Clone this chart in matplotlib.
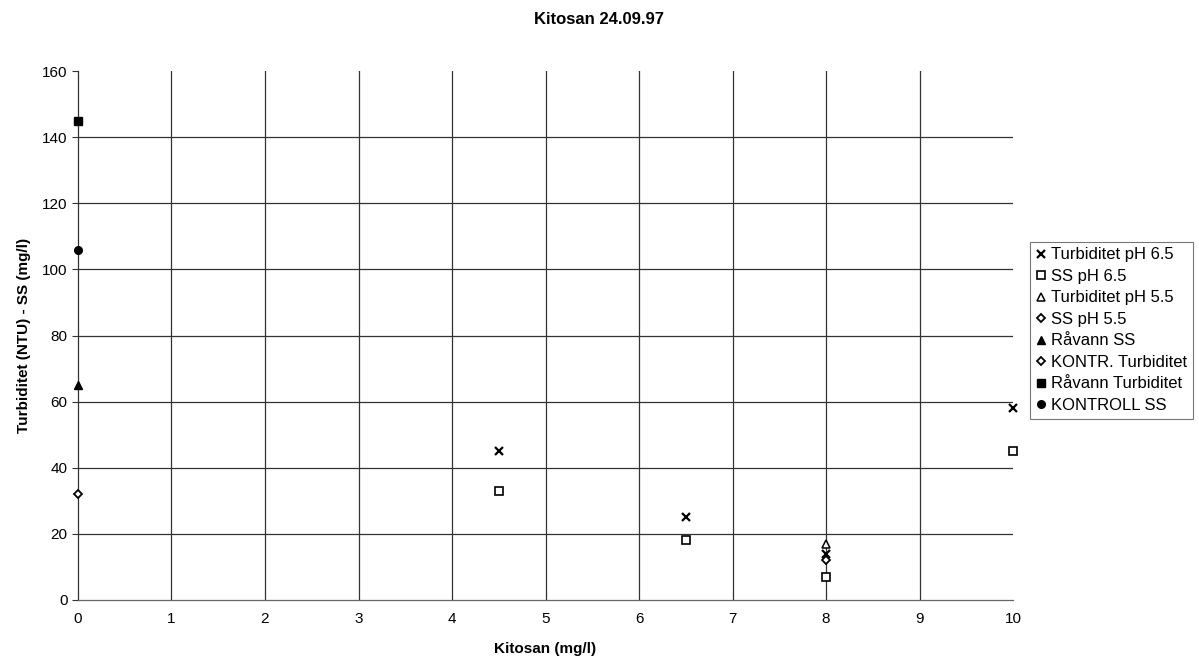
import matplotlib.pyplot as plt

plt.rcParams['font.family'] = ['Liberation Sans', 'DejaVu Sans']

# Kitosan dose (mg/l) and measured values per series
turb_65_x = [4.5, 6.5, 8, 10]
turb_65_y = [45, 25, 14, 58]
ss_65_x = [4.5, 6.5, 8, 10]
ss_65_y = [33, 18, 7, 45]
turb_55_x = [8]
turb_55_y = [17]
ss_55_x = [8]
ss_55_y = [12]
ravann_ss_x = [0]
ravann_ss_y = [65]
kontr_turb_x = [0]
kontr_turb_y = [32]
ravann_turb_x = [0]
ravann_turb_y = [145]
kontroll_ss_x = [0]
kontroll_ss_y = [106]

fig = plt.figure(figsize=(11.99, 6.62), dpi=100)
ax = fig.add_axes([0.065, 0.0937, 0.78, 0.799])

series = [
    (turb_65_x, turb_65_y, 'Turbiditet pH 6.5', dict(marker='x', color='black', markersize=6, markeredgewidth=1.6)),
    (ss_65_x, ss_65_y, 'SS pH 6.5', dict(marker='s', markerfacecolor='white', markeredgecolor='black', markersize=5.5, markeredgewidth=1.2)),
    (turb_55_x, turb_55_y, 'Turbiditet pH 5.5', dict(marker='^', markerfacecolor='white', markeredgecolor='black', markersize=6, markeredgewidth=1.1)),
    (ss_55_x, ss_55_y, 'SS pH 5.5', dict(marker='D', markerfacecolor='white', markeredgecolor='black', markersize=4.5, markeredgewidth=1.3)),
    (ravann_ss_x, ravann_ss_y, 'Råvann SS', dict(marker='^', color='black', markersize=6)),
    (kontr_turb_x, kontr_turb_y, 'KONTR. Turbiditet', dict(marker='D', markerfacecolor='white', markeredgecolor='black', markersize=4.5, markeredgewidth=1.3)),
    (ravann_turb_x, ravann_turb_y, 'Råvann Turbiditet', dict(marker='s', color='black', markersize=5.5)),
    (kontroll_ss_x, kontroll_ss_y, 'KONTROLL SS', dict(marker='o', color='black', markersize=5.5)),
]
for xs, ys, name, style in series:
    ax.plot(xs, ys, linestyle='none', label=name, clip_on=False, zorder=5, **style)

ax.set_xlim(0, 10)
ax.set_ylim(0, 160)
ax.set_xticks(range(0, 11))
ax.set_yticks(range(0, 161, 20))

# gridlines drawn by hand so the top and right edges stay open
for gx in range(1, 10):
    ax.axvline(gx, color='#333333', lw=0.9, zorder=1)
for gy in range(20, 160, 20):
    ax.axhline(gy, color='#333333', lw=0.9, zorder=1)

for side in ['top', 'right']:
    ax.spines[side].set_visible(False)
ax.spines['left'].set_color('#333333')
ax.spines['bottom'].set_color('#666666')
ax.spines['left'].set_linewidth(0.9)
ax.spines['bottom'].set_linewidth(0.9)
ax.tick_params(axis='both', labelsize=11, length=4, color='#333333')
ax.tick_params(axis='x', pad=9, length=0)

ax.set_xlabel('Kitosan (mg/l)', fontsize=11, fontweight='bold', labelpad=11)
ax.set_ylabel('Turbiditet (NTU) - SS (mg/l)', fontsize=11, fontweight='bold', labelpad=8)
fig.suptitle('Kitosan 24.09.97', fontsize=12, fontweight='bold', y=0.982)

leg = fig.legend(loc='upper left', bbox_to_anchor=(0.859, 0.635), fontsize=12,
                 frameon=True, fancybox=False, edgecolor='#555555',
                 handlelength=0.6, handletextpad=0.3, labelspacing=0.39,
                 borderpad=0.35, borderaxespad=0)
leg.get_frame().set_linewidth(0.8)

fig.savefig('out.png', dpi=100)
